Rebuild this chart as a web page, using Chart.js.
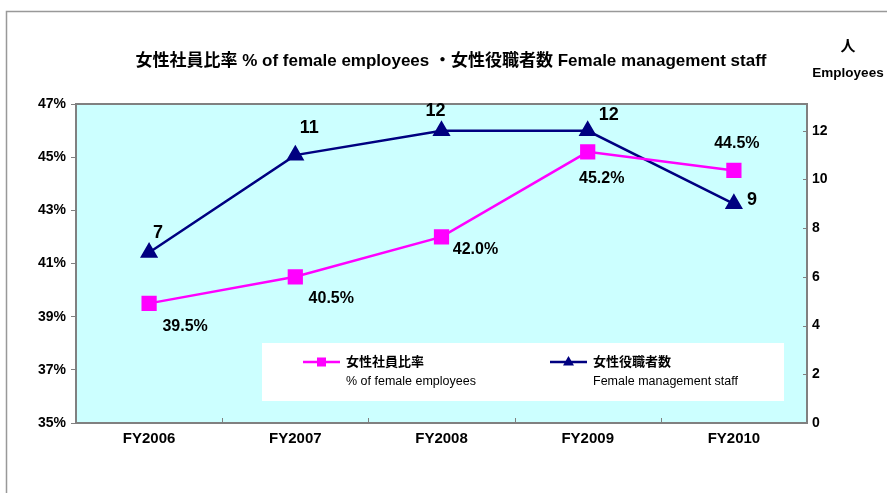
<!DOCTYPE html>
<html>
<head>
<meta charset="utf-8">
<script src="https://cdn.jsdelivr.net/npm/chart.js@4.4.1/dist/chart.umd.min.js"></script>
<style>
  html, body { margin:0; padding:0; background:#fff; }
  #wrap { width:887px; height:493px; position:relative; }
</style>
</head>
<body>
<div id="wrap"><canvas id="cv" width="887" height="493"></canvas></div>
<script>
/* ---------- data ---------- */
const years      = ['FY2006','FY2007','FY2008','FY2009','FY2010'];
const femaleRate = [39.5, 40.5, 42.0, 45.2, 44.5];   // %
const femaleMgmt = [7, 11, 12, 12, 9];               // persons
const rateTicks  = [35, 37, 39, 41, 43, 45, 47];
const mgmtTicks  = [0, 2, 4, 6, 8, 10, 12];

const PINK = '#FF00FF', NAVY = '#000080', GRID = '#808080';
const FONT = '"Liberation Sans", Arial, "Noto Sans CJK JP", sans-serif';

/* label offsets from each point (px) */
const rateOff = [[36,23],[36,22],[34,13],[14,27],[3,-27]];
const mgmtOff = [[9,-20],[14,-27],[-6,-20],[21,-16],[18,-4]];

/* ---------- custom drawing ---------- */
const deco = {
  id:'deco',
  beforeDraw(chart){
    const {ctx, chartArea:a} = chart;
    ctx.save();
    // outer frame
    ctx.strokeStyle = '#999'; ctx.lineWidth = 1.5;
    ctx.beginPath();
    ctx.moveTo(6.5, 493); ctx.lineTo(6.5, 11.5); ctx.lineTo(887, 11.5);
    ctx.stroke();
    // plot bg
    ctx.fillStyle = '#CCFFFF';
    ctx.fillRect(a.left, a.top, a.right-a.left, a.bottom-a.top);
    ctx.restore();
  },
  beforeDatasetsDraw(chart){
    const {ctx, chartArea:a, scales} = chart;
    ctx.save();
    ctx.strokeStyle = GRID; ctx.lineWidth = 1;
    // x ticks between categories (inside)
    ctx.beginPath();
    for (let i=1;i<years.length;i++){
      const x = Math.round((scales.x.getPixelForTick(i-1)+scales.x.getPixelForTick(i))/2)+0.5;
      ctx.moveTo(x, a.bottom); ctx.lineTo(x, a.bottom-5);
    }
    // right axis ticks (inside)
    mgmtTicks.forEach(v=>{
      const y = Math.round(scales.y1.getPixelForValue(v))+0.5;
      ctx.moveTo(a.right, y); ctx.lineTo(a.right-4, y);
    });
    ctx.stroke();
    // plot frame
    ctx.lineWidth = 2;
    ctx.strokeRect(a.left, a.top, a.right-a.left, a.bottom-a.top);

    // legend box
    ctx.fillStyle = '#fff';
    ctx.fillRect(262, 343, 522, 58);
    const items = [
      {x:303, c:PINK, m:'rect', t1:'女性社員比率', t2:'% of female employees'},
      {x:550, c:NAVY, m:'tri',  t1:'女性役職者数', t2:'Female management staff'}
    ];
    items.forEach(it=>{
      const y = 362;
      ctx.strokeStyle = it.c; ctx.lineWidth = 2.5;
      ctx.beginPath(); ctx.moveTo(it.x, y); ctx.lineTo(it.x+37, y); ctx.stroke();
      ctx.fillStyle = it.c;
      const cx = it.x+18.5;
      if (it.m==='rect') ctx.fillRect(cx-4.5, y-4.5, 9, 9);
      else { ctx.beginPath(); ctx.moveTo(cx, y-6); ctx.lineTo(cx+5.5, y+3.5); ctx.lineTo(cx-5.5, y+3.5); ctx.closePath(); ctx.fill(); }
      ctx.fillStyle = '#000'; ctx.textAlign = 'left'; ctx.textBaseline = 'middle';
      ctx.font = 'bold 13px ' + FONT;
      ctx.fillText(it.t1, it.x+43, y);
      ctx.font = '12.5px ' + FONT;
      ctx.fillText(it.t2, it.x+43, y+20);
    });
    ctx.restore();
  },
  afterDraw(chart){
    const {ctx} = chart;
    ctx.save();
    ctx.fillStyle = '#000'; ctx.textAlign = 'center'; ctx.textBaseline = 'middle';
    // title
    ctx.font = 'bold 17px ' + FONT;
    ctx.fillText('女性社員比率 % of female employees ・女性役職者数 Female management staff', 451, 61);
    // right axis unit
    ctx.font = 'bold 15px ' + FONT;
    ctx.fillText('人', 848, 47);
    ctx.font = 'bold 13.5px ' + FONT;
    ctx.fillText('Employees', 848, 73);
    // data labels
    const m0 = chart.getDatasetMeta(0), m1 = chart.getDatasetMeta(1);
    ctx.font = 'bold 16px ' + FONT;
    m0.data.forEach((p,i)=>{
      ctx.fillText(femaleRate[i].toFixed(1)+'%', p.x+rateOff[i][0], p.y+rateOff[i][1]);
    });
    ctx.font = 'bold 18px ' + FONT;
    m1.data.forEach((p,i)=>{
      ctx.fillText(String(femaleMgmt[i]), p.x+mgmtOff[i][0], p.y+mgmtOff[i][1]);
    });
    ctx.restore();
  }
};

/* ---------- chart ---------- */
new Chart(document.getElementById('cv'), {
  type:'line',
  data:{
    labels: years,
    datasets:[
      { label:'女性社員比率 % of female employees', data:femaleRate, yAxisID:'y',
        borderColor:PINK, backgroundColor:PINK, borderWidth:2.5,
        pointStyle:'rect', pointRadius:9, pointHoverRadius:9, tension:0 },
      { label:'女性役職者数 Female management staff', data:femaleMgmt, yAxisID:'y1',
        borderColor:NAVY, backgroundColor:NAVY, borderWidth:2.5,
        pointStyle:'triangle', pointRadius:8, pointHoverRadius:8, tension:0 }
    ]
  },
  options:{
    responsive:false, animation:false,
    layout:{ padding:{ top:104, left:0, right:0, bottom:0 } },
    plugins:{ legend:{display:false}, title:{display:false}, tooltip:{enabled:false} },
    scales:{
      x:{
        offset:true,
        grid:{ display:false },
        border:{ display:false },
        ticks:{ color:'#000', font:{family:FONT, size:15, weight:'bold'}, padding:-1, maxRotation:0 },
        afterFit: s => { s.height = 70; }
      },
      y:{
        position:'left', min:rateTicks[0], max:rateTicks[rateTicks.length-1],
        afterBuildTicks: s => { s.ticks = rateTicks.map(v=>({value:v})); },
        grid:{ display:true, drawOnChartArea:false, tickLength:5, color:GRID },
        border:{ display:false },
        ticks:{ color:'#000', font:{family:FONT, size:14, weight:'bold'}, padding:5,
                callback: v => v + '%' },
        afterFit: s => { s.width = 76; }
      },
      y1:{
        position:'right', min:0, max:13.1,
        afterBuildTicks: s => { s.ticks = mgmtTicks.map(v=>({value:v})); },
        grid:{ display:false },
        border:{ display:false },
        ticks:{ color:'#000', font:{family:FONT, size:14, weight:'bold'}, padding:-3 },
        afterFit: s => { s.width = 80; }
      }
    }
  },
  plugins:[deco]
});
</script>
</body>
</html>
